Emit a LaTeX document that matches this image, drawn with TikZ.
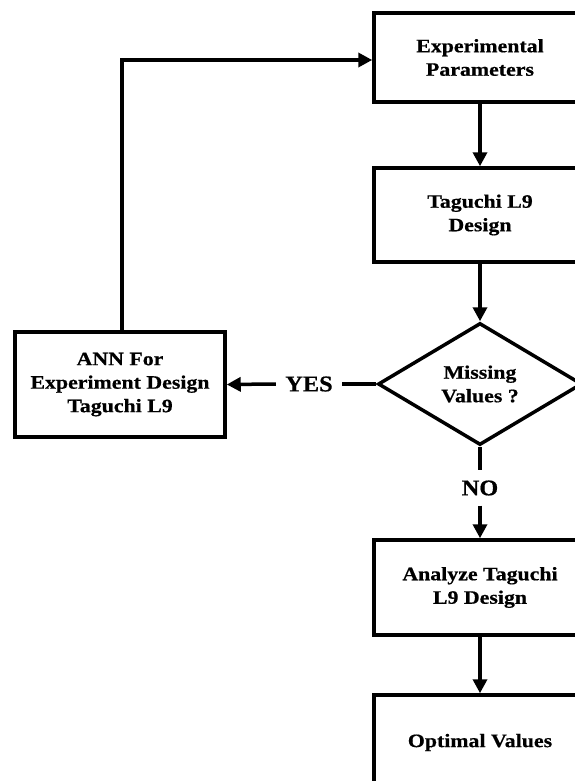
\documentclass[tikz,border=0pt]{standalone}
\usepackage{fontspec}
\setmainfont{Liberation Serif}[FakeStretch=1.15,FakeBold=0.6]
\newfontfamily\lblfont{Liberation Serif}[FakeStretch=1.08,FakeBold=0.6]
\usetikzlibrary{shapes.geometric,arrows.meta}
\begin{document}
\begin{tikzpicture}[x=1pt,y=-1pt,
  every node/.style={font=\bfseries\fontsize{19}{23.5}\selectfont, align=center},
  procbox/.style={draw, line width=3.5pt, minimum width=212pt, inner sep=0pt},
  decision/.style={draw, shape=diamond, line width=3.5pt, minimum width=204pt, minimum height=122pt, aspect=1.67, inner sep=0pt},
  lbl/.style={font=\lblfont\bfseries\fontsize{22.5}{24}\selectfont, inner sep=0pt},
  conn/.style={line width=3.5pt},
  arr/.style={line width=3.5pt, -{Triangle[length=14pt,width=14pt]}}]
\useasboundingbox (0,0) rectangle (575,781);
\clip (0,0) rectangle (575,781);
\fill[white] (0,0) rectangle (575,781);
\node[procbox, minimum height=89pt] (ep) at (480,57.5) {Experimental\\Parameters};
\node[procbox, minimum height=94pt] (td) at (480,215) {Taguchi L9\\Design};
\node[decision] (dm) at (480,384) {Missing\\Values ?};
\node[lbl, minimum height=35pt] (no) at (480,488) {NO};
\node[procbox, minimum height=95pt] (an) at (480,587.5) {Analyze Taguchi\\L9 Design};
\node[procbox, minimum height=95pt] (ov) at (480,742.5) {Optimal Values};
\node[procbox, minimum width=210pt, minimum height=105pt] (ann) at (120,384.5) {ANN For\\Experiment Design\\Taguchi L9};
\node[lbl, minimum width=66pt] (yes) at (309,384) {YES};
\coordinate (corner) at (122,60);
\draw[arr] (ep.south) -- (td.north);
\draw[arr] (td.south) -- (dm.north);
\draw[conn] (dm.south) -- (no.north);
\draw[arr] (no.south) -- (an.north);
\draw[arr] (an.south) -- (ov.north);
\draw[conn] (dm.west) -- (yes.east);
\draw[arr] (yes.west) -- (ann.east);
\draw[arr] (ann.north -| corner) -- (corner) -- (corner -| ep.west);
\end{tikzpicture}
\end{document}
